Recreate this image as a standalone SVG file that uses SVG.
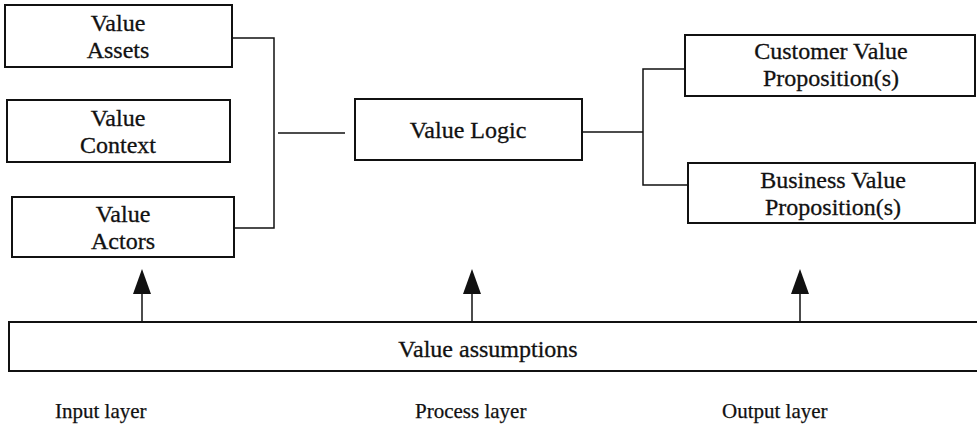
<svg xmlns="http://www.w3.org/2000/svg" width="977" height="437" viewBox="0 0 977 437">
<defs>
<style>
.box{fill:#fff;stroke:#111;stroke-width:2}
.t{font-family:'Liberation Serif','Times New Roman',serif;font-size:24px;fill:#111;stroke:#111;stroke-width:0.3;text-anchor:middle}
.lbl{font-family:'Liberation Serif','Times New Roman',serif;font-size:21px;fill:#111;stroke:#111;stroke-width:0.25}
.c{fill:none;stroke:#111;stroke-width:1.5}
.ah{fill:#111}
</style>
</defs>
<rect width="977" height="437" fill="#fff"/>
<g id="connectors">
<polyline class="c" points="232,38 274,38 274,228 233,228"/>
<line class="c" x1="278" y1="133" x2="345" y2="133"/>
<line class="c" x1="582" y1="132" x2="643" y2="132"/>
<polyline class="c" points="685,69 643,69 643,185 688,185"/>
<line class="c" x1="142" y1="322" x2="142" y2="292"/>
<polygon class="ah" points="142,269 151,294 133,294"/>
<line class="c" x1="472" y1="322" x2="472" y2="292"/>
<polygon class="ah" points="472,269 481,294 463,294"/>
<line class="c" x1="800" y1="322" x2="800" y2="292"/>
<polygon class="ah" points="800,269 809,294 791,294"/>
</g>
<g id="value-assets">
<rect class="box" x="5" y="5" width="227" height="62"/>
<text class="t" x="118" y="31">Value</text>
<text class="t" x="118" y="58">Assets</text>
</g>
<g id="value-context">
<rect class="box" x="7" y="100" width="223" height="62"/>
<text class="t" x="118" y="126">Value</text>
<text class="t" x="118" y="153">Context</text>
</g>
<g id="value-actors">
<rect class="box" x="12" y="197" width="222" height="60"/>
<text class="t" x="123" y="222">Value</text>
<text class="t" x="123" y="249">Actors</text>
</g>
<g id="value-logic">
<rect class="box" x="355" y="99" width="227" height="61"/>
<text class="t" x="468" y="138">Value Logic</text>
</g>
<g id="customer-vp">
<rect class="box" x="685" y="35" width="290" height="61"/>
<text class="t" x="831" y="59">Customer Value</text>
<text class="t" x="831" y="86">Proposition(s)</text>
</g>
<g id="business-vp">
<rect class="box" x="688" y="163" width="287" height="60"/>
<text class="t" x="833" y="188">Business Value</text>
<text class="t" x="833" y="215">Proposition(s)</text>
</g>
<g id="value-assumptions">
<rect class="box" x="9" y="322" width="975" height="49"/>
<text class="t" x="488" y="357">Value assumptions</text>
</g>
<g id="layer-labels">
<text class="lbl" x="55" y="418">Input layer</text>
<text class="lbl" x="415" y="418">Process layer</text>
<text class="lbl" x="722" y="418">Output layer</text>
</g>
</svg>
